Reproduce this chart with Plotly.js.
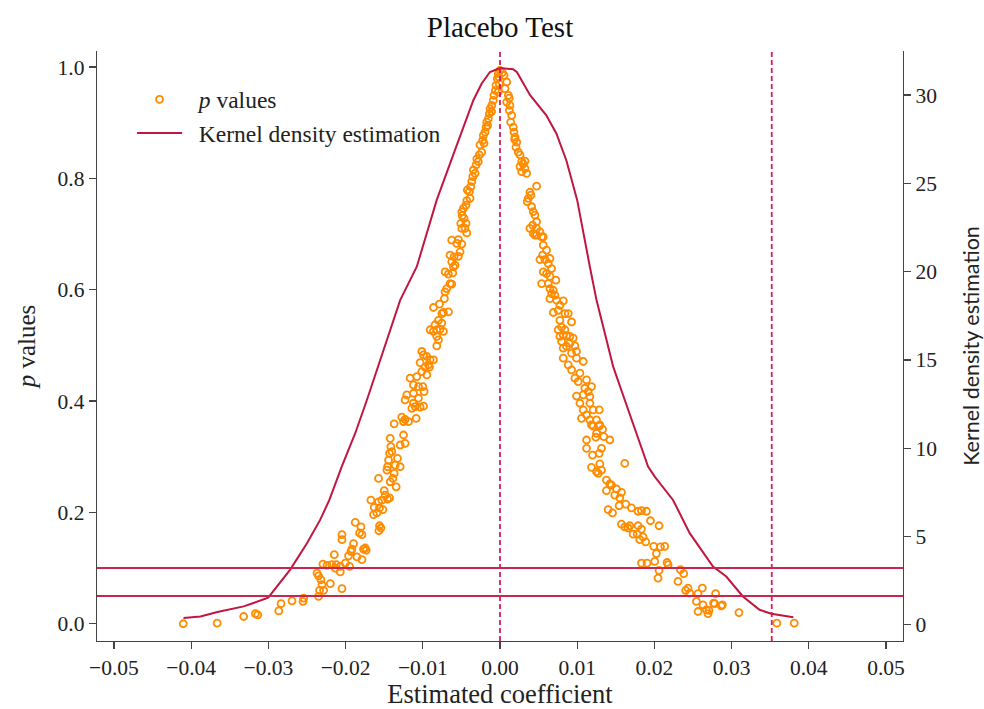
<!DOCTYPE html>
<html>
<head>
<meta charset="utf-8">
<script src="https://cdn.plot.ly/plotly-3.0.1.min.js"></script>
<style>html,body{margin:0;padding:0;background:#fff;}#chart{width:984px;height:709px;}</style>
</head>
<body>
<div id="chart"></div>
<script>
// Placebo estimated coefficients and their p values
const coefLeft = [
0.0000,-0.00022,-0.00035,-0.00009,-0.00052,-0.00022,-0.00078,-0.00087,-0.00107,-0.00129,-0.00138,-0.00151,-0.00172,-0.00181,-0.00194,-0.00216,-0.00224,-0.00207,-0.00259,-0.00237,-0.00268,-0.00281,-0.00310,-0.00345,-0.00323,-0.00353,-0.00366,-0.00379,-0.00397,-0.00423,-0.00388,-0.00440,-0.00474,-0.00495,-0.00466,-0.00440,-0.00508,-0.00453,-0.00495,
-0.00015,-0.0006,-0.0011,-0.0016,-0.0030,-0.0043,-0.0049,
-0.00431,-0.00625,-0.00539,-0.00495,-0.00560,-0.00517,-0.00647,-0.00595,-0.00539,-0.00625,-0.00603,-0.00582,-0.00711,-0.00668,-0.00612,-0.00647,-0.00625,-0.00690,-0.00711,-0.00720,-0.00862,-0.00785,-0.00733,-0.00668,-0.00754,-0.00797,-0.00841,-0.00754,-0.00905,-0.00862,-0.00819,-0.00776,-0.00733,-0.00819,-0.00797,-0.00819,-0.01013,-0.00948,-0.00991,-0.00905,-0.01035,-0.00927,-0.00862,-0.00970,-0.00914,-0.01013,-0.00948,-0.01078,-0.01164,-0.01121,-0.01056,-0.01000,-0.00983,-0.01207,-0.01121,-0.01229,-0.01056,-0.01121,-0.01099,-0.01035,-0.00991,-0.01142,-0.01272,-0.01229,-0.01185,-0.01250,-0.01086,-0.01371,
-0.01250,-0.01229,-0.01293,-0.01422,-0.01414,-0.01431,-0.01401,-0.01444,-0.01328,-0.01293,-0.01358,-0.01457,-0.01465,-0.01371,-0.01388,-0.01422,-0.01573,-0.01345,-0.01500,-0.01487,-0.01457,-0.01431,-0.01530,-0.01672,-0.01573,-0.01629,-0.01561,-0.01517,-0.01595,-0.01638,-0.01875,-0.01801,-0.01788,-0.01819,-0.01561,-0.01543,-0.01569,-0.02047,-0.02047,-0.01897,-0.01918,-0.01931,-0.01746,-0.01733,-0.01768,-0.01962,-0.01853,-0.01788,-0.02147,-0.02004,-0.02069,-0.02121,-0.02177,-0.02241,-0.02293,-0.01949,-0.02069,-0.02134,-0.02370,-0.02350,-0.02319,-0.02306,-0.02198,-0.02285,-0.02337,-0.02047,-0.02350,-0.02543,-0.02551,
-0.04103,-0.03664,-0.03320,-0.03168,-0.03138,-0.02866,-0.02836,-0.02694
];
const pLeft = [
0.994,0.988,0.979,0.970,0.967,0.955,0.949,0.940,0.931,0.925,0.916,0.907,0.901,0.892,0.883,0.877,0.868,0.863,0.860,0.847,0.842,0.830,0.824,0.815,0.809,0.803,0.794,0.785,0.776,0.779,0.764,0.752,0.746,0.740,0.728,0.719,0.719,0.710,0.710,
0.982,0.958,0.920,0.895,0.835,0.760,0.733,
0.702,0.689,0.690,0.682,0.683,0.668,0.662,0.659,0.660,0.650,0.641,0.644,0.632,0.628,0.630,0.611,0.610,0.602,0.596,0.584,0.568,0.574,0.559,0.560,0.557,0.545,0.537,0.540,0.528,0.525,0.528,0.529,0.525,0.516,0.510,0.499,0.489,0.480,0.483,0.474,0.469,0.465,0.474,0.461,0.461,0.453,0.447,0.444,0.441,0.429,0.426,0.426,0.417,0.411,0.414,0.402,0.405,0.396,0.390,0.389,0.391,0.387,0.371,0.367,0.363,0.363,0.369,0.359,
0.339,0.324,0.321,0.333,0.318,0.306,0.309,0.294,0.297,0.282,0.285,0.282,0.276,0.270,0.261,0.255,0.261,0.246,0.239,0.231,0.224,0.226,0.222,0.222,0.219,0.209,0.208,0.205,0.199,0.196,0.182,0.174,0.160,0.163,0.176,0.172,0.167,0.160,0.151,0.144,0.134,0.130,0.136,0.132,0.134,0.122,0.120,0.115,0.124,0.109,0.103,0.106,0.106,0.105,0.107,0.103,0.093,0.100,0.091,0.086,0.079,0.070,0.072,0.060,0.060,0.063,0.049,0.046,0.040,
0.000,0.001,0.013,0.018,0.016,0.023,0.036,0.041
];
const coefRight = [
0.00052,0.00087,0.00065,0.00108,0.00087,0.00129,0.00121,0.00151,0.00138,0.00172,0.00181,0.00194,0.00216,0.00207,0.00237,0.00259,0.00281,0.00323,0.00259,0.00323,0.00281,0.00345,0.00474,0.00388,0.00366,0.00353,0.00410,0.00431,0.00453,0.00474,0.00423,0.00388,0.00474,0.00517,0.00453,0.00560,
0.0003,0.0012,0.0019,0.0030,0.0040,
0.00431,0.00474,0.00539,0.00560,0.00603,0.00552,0.00517,0.00582,0.00647,0.00625,0.00668,0.00560,0.00603,0.00647,0.00539,0.00625,0.00724,0.00647,0.00690,0.00668,0.00711,0.00647,0.00733,0.00819,0.00776,0.00754,0.00690,0.00841,0.00884,0.00927,0.00776,0.00797,0.00841,0.00754,0.00819,0.00776,0.00862,0.00905,0.00948,0.00797,0.00905,0.00970,0.00819,0.00862,0.00991,0.00927,0.00819,0.00991,0.01078,0.00884,0.00927,0.01035,0.00970,0.01013,0.01121,0.01099,0.01185,0.01142,0.00991,0.01078,0.01164,0.01035,0.01164,0.01078,0.01207,0.01121,0.01285,0.01056,0.01164,0.01250,0.01207,0.01293,
0.01185,0.01285,0.01328,0.01250,0.01241,0.01345,0.01422,0.01121,0.01121,0.01198,0.01285,0.01315,0.01616,0.01185,0.01293,0.01250,0.01315,0.01272,0.01379,0.01422,0.01379,0.01444,0.01509,0.01573,0.01487,0.01552,0.01629,0.01543,0.01401,0.01457,0.01703,0.01789,0.01832,0.01897,0.01949,0.02060,0.01573,0.01616,0.01681,0.01659,0.01789,0.01832,0.01724,0.01776,0.01853,0.01810,0.01888,0.01991,0.02078,0.02134,0.02026,0.02004,0.01832,0.01905,0.02164,0.02177,0.02060,0.02337,0.02379,0.02047,0.02306,0.02435,0.02405,0.02621,0.02457,0.02565,0.02793,0.02544,0.02629,0.02767,0.02880,0.02565,0.02673,0.02694,0.02707,
0.03095,0.03586,0.03811,0.02780,0.02867
];
const pRight = [
0.985,0.973,0.961,0.949,0.937,0.931,0.922,0.913,0.901,0.892,0.883,0.874,0.865,0.856,0.847,0.842,0.830,0.831,0.821,0.818,0.812,0.809,0.786,0.775,0.764,0.758,0.749,0.740,0.734,0.722,0.716,0.710,0.710,0.704,0.698,0.695,
0.990,0.944,0.870,0.826,0.770,
0.701,0.698,0.695,0.680,0.671,0.662,0.654,0.654,0.656,0.647,0.638,0.632,0.629,0.624,0.611,0.611,0.617,0.602,0.599,0.593,0.590,0.584,0.581,0.580,0.572,0.563,0.559,0.557,0.557,0.542,0.545,0.533,0.528,0.528,0.519,0.516,0.517,0.516,0.513,0.507,0.504,0.499,0.495,0.498,0.489,0.486,0.477,0.477,0.471,0.465,0.456,0.450,0.441,0.435,0.438,0.423,0.426,0.417,0.409,0.411,0.408,0.396,0.396,0.384,0.384,0.375,0.384,0.369,0.366,0.366,0.355,0.357,
0.357,0.355,0.349,0.342,0.335,0.336,0.330,0.330,0.315,0.303,0.306,0.315,0.288,0.281,0.287,0.273,0.276,0.270,0.258,0.251,0.239,0.249,0.242,0.236,0.231,0.226,0.215,0.212,0.205,0.199,0.208,0.202,0.203,0.202,0.185,0.176,0.179,0.174,0.176,0.172,0.176,0.170,0.161,0.161,0.156,0.151,0.147,0.139,0.138,0.139,0.126,0.112,0.109,0.109,0.110,0.106,0.096,0.097,0.090,0.082,0.076,0.064,0.060,0.064,0.055,0.054,0.054,0.040,0.034,0.037,0.034,0.022,0.025,0.018,0.024,
0.020,0.001,0.001,0.036,0.032
];

// Kernel density estimate of the coefficients
const kdeX = [-0.0410,-0.0388,-0.0366,-0.0332,-0.0304,-0.0300,-0.0272,-0.0250,-0.0233,-0.0221,-0.0205,-0.01875,-0.01724,-0.01293,-0.01078,-0.0095,-0.0082,-0.0060,-0.0050,-0.00345,-0.00237,-0.0013,0.0000,0.0017,0.0022,0.0039,0.0060,0.0073,0.0086,0.0100,0.01164,0.0125,0.01358,0.01466,0.01616,0.01768,0.01918,0.02004,0.02241,0.02457,0.02759,0.02931,0.03146,0.03362,0.03513,0.0380];
const kdeY = [0.38,0.47,0.72,1.04,1.47,1.55,3.11,4.62,5.94,7.07,8.96,10.85,12.73,18.39,20.28,22.17,24.05,26.69,27.83,29.71,30.66,31.31,31.54,31.47,31.30,30.00,28.86,27.83,26.30,24.05,20.28,18.39,16.51,14.62,12.73,10.85,8.96,8.39,7.07,5.19,3.30,2.73,1.60,0.85,0.62,0.43];

// Reference lines
const pThresholds = [0.10, 0.05];
const vLines = [0.0, 0.0352];

const xTicks = [-0.05,-0.04,-0.03,-0.02,-0.01,0,0.01,0.02,0.03,0.04,0.05];
const yTicks = [0,0.2,0.4,0.6,0.8,1.0];
const y2Ticks = [0,5,10,15,20,25,30];

const coef = coefLeft.concat(coefRight);
const pval = pLeft.concat(pRight);

const FONT = '"Liberation Serif", "Times New Roman", serif';
const SANS = 'Lato, "Open Sans", sans-serif';
const AX = '#444';
const RED = '#c0163f';

const traces = [
  {
    x: coef, y: pval, type: 'scatter', mode: 'markers', name: '&nbsp;&nbsp;<i>p</i> values',
    marker: {symbol: 'circle-open', size: 7, color: '#ff8c00', line: {width: 1.8, color: '#ff8c00'}},
    yaxis: 'y'
  },
  {
    x: kdeX, y: kdeY, type: 'scatter', mode: 'lines', name: '&nbsp;&nbsp;Kernel density estimation',
    line: {color: RED, width: 2}, yaxis: 'y2'
  }
];

const shapes = [];
pThresholds.forEach(v => shapes.push({type:'line', xref:'paper', x0:0, x1:1, yref:'y', y0:v, y1:v, line:{color:'#c8264c', width:2}}));
vLines.forEach(v => shapes.push({type:'line', xref:'x', x0:v, x1:v, yref:'paper', y0:0, y1:1, line:{color:'#d81e55', width:1.8, dash:'5px,3px'}}));

const axisCommon = {
  showgrid: false, zeroline: false, showline: true, linecolor: AX, linewidth: 1.3,
  ticks: 'outside', ticklen: 7, tickwidth: 1.3, tickcolor: AX,
  tickfont: {family: FONT, size: 21.5, color: '#222'}
};

const layout = {
  width: 984, height: 709,
  margin: {l: 97, r: 81, t: 51, b: 68, pad: 0},
  paper_bgcolor: '#fff', plot_bgcolor: '#fff',
  font: {family: FONT, color: '#222'},
  title: {text: 'Placebo Test', font: {family: FONT, size: 29, color: '#111'}, x: 0.5, xref: 'paper', y: 0.962, yref: 'container', yanchor: 'middle'},
  showlegend: true,
  legend: {x: 0.0435, y: 0.955, xanchor: 'left', yanchor: 'top', bgcolor: 'rgba(0,0,0,0)', font: {family: FONT, size: 23.5, color: '#222'}, itemwidth: 45, tracegroupgap: 0},
  xaxis: Object.assign({}, axisCommon, {
    range: [-0.0522, 0.0522], tickvals: xTicks, tickformat: '.2f',
    title: {text: 'Estimated coefficient', font: {family: FONT, size: 26.5, color: '#222'}, standoff: 2}
  }),
  yaxis: Object.assign({}, axisCommon, {
    range: [-0.031, 1.0287], tickvals: yTicks, tickformat: '.1f',
    title: {text: '<i>p</i> values', font: {family: FONT, size: 25, color: '#222'}, standoff: 14}
  }),
  yaxis2: Object.assign({}, axisCommon, {
    range: [-0.92, 32.5], tickvals: y2Ticks, overlaying: 'y', side: 'right',
    title: {text: 'Kernel density estimation', font: {family: SANS, size: 21.5, color: '#222'}, standoff: 30}
  }),
  shapes: shapes
};

Plotly.newPlot('chart', traces, layout, {staticPlot: true, displayModeBar: false});
</script>
</body>
</html>
